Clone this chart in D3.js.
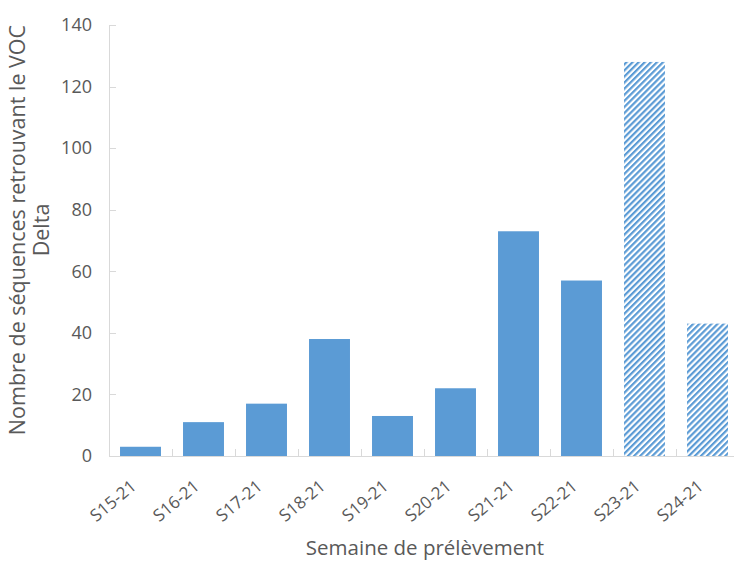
<!DOCTYPE html>
<html><head><meta charset="utf-8">
<script src="https://cdn.jsdelivr.net/npm/d3@7"></script>
<style>body{margin:0;background:#fff}svg{display:block;font-family:"Open Sans",sans-serif}</style>
</head><body>
<script>
const categories = ["S15-21","S16-21","S17-21","S18-21","S19-21","S20-21","S21-21","S22-21","S23-21","S24-21"];
const values = [3,11,17,38,13,22,73,57,128,43];
const hatched = [false,false,false,false,false,false,false,false,true,true];
const yTicks = [0,20,40,60,80,100,120,140];
const yTitle = ["Nombre de séquences retrouvant le VOC","Delta"];
const xTitle = "Semaine de prélèvement";

(function(){
const W=734,H=561;
const svg=d3.select("body").append("svg").attr("width",W).attr("height",H);
const mL=109,mR=739,mT=25,mB=456;
const x=d3.scaleBand().domain(categories).range([mL,mR]).paddingInner(0.35).paddingOuter(0.175);
const y=d3.scaleLinear().domain([0,140]).range([mB,mT]);
const blue="#5B9BD5", grey="#595959", axisC="#D9D9D9";

const defs=svg.append("defs");
const pat=defs.append("pattern").attr("id","hatch").attr("patternUnits","userSpaceOnUse")
  .attr("width",4.3).attr("height",4.3).attr("patternTransform","rotate(45)");
pat.append("rect").attr("width",4.3).attr("height",4.3).attr("fill","#fff");
pat.append("rect").attr("x",0).attr("width",2.2).attr("height",4.3).attr("fill",blue);

svg.append("line").attr("x1",mL+0.5).attr("x2",mL+0.5).attr("y1",mT).attr("y2",mB).attr("stroke",axisC);
svg.append("line").attr("x1",mL).attr("x2",mR).attr("y1",mB+0.5).attr("y2",mB+0.5).attr("stroke",axisC);
svg.selectAll(".yt").data(yTicks).enter().append("line")
  .attr("x1",mL).attr("x2",mL+7).attr("y1",d=>Math.round(y(d))+0.5).attr("y2",d=>Math.round(y(d))+0.5).attr("stroke",axisC);
svg.selectAll(".yl").data(yTicks).enter().append("text")
  .attr("x",92).attr("y",d=>y(d)).attr("dy","0.35em").attr("text-anchor","end")
  .attr("fill",grey).attr("font-size",18).text(d=>d);
const step=x.step();
svg.selectAll(".xt").data(d3.range(categories.length+1)).enter().append("line")
  .attr("x1",i=>Math.round(mL+i*step)+0.5).attr("x2",i=>Math.round(mL+i*step)+0.5)
  .attr("y1",mB).attr("y2",mB-7).attr("stroke",axisC);

svg.selectAll(".bar").data(categories).enter().append("rect")
  .attr("x",d=>x(d)).attr("width",x.bandwidth())
  .attr("y",(d,i)=>y(values[i])).attr("height",(d,i)=>y(0)-y(values[i]))
  .attr("fill",(d,i)=>hatched[i]?"url(#hatch)":blue);

svg.selectAll(".xl").data(categories).enter().append("text")
  .attr("transform",d=>`translate(${x(d)+x.bandwidth()/2-3},${mB+32}) rotate(-40)`)
  .attr("text-anchor","end")
  .attr("fill",grey).attr("font-size",17).text(d=>d);

svg.append("text").attr("x",425).attr("y",555).attr("text-anchor","middle")
  .attr("fill",grey).attr("font-size",20.5).text(xTitle);
const yt=svg.append("text").attr("transform","translate(0,230) rotate(-90)").attr("text-anchor","middle")
  .attr("fill",grey).attr("font-size",21.5);
yt.append("tspan").attr("x",0).attr("y",25).text(yTitle[0]);
yt.append("tspan").attr("x",0).attr("y",49).text(yTitle[1]);
})();
</script>
</body></html>
